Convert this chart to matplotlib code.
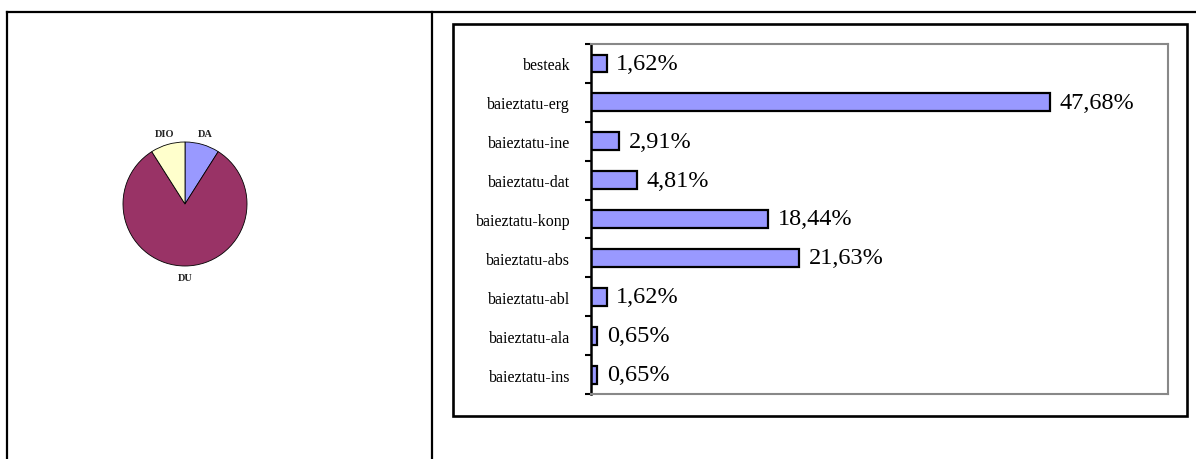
import matplotlib
matplotlib.use("Agg")
import matplotlib.pyplot as plt
from matplotlib.lines import Line2D
from matplotlib.patches import Rectangle

# ---- data ----
pie_labels = ["DA", "DU", "DIO"]
pie_values = [9.0, 82.0, 9.0]
pie_colors = ["#9999FF", "#993366", "#FFFFCC"]

bar_categories = ["besteak", "baieztatu-erg", "baieztatu-ine", "baieztatu-dat",
                  "baieztatu-konp", "baieztatu-abs", "baieztatu-abl",
                  "baieztatu-ala", "baieztatu-ins"]
bar_values = [1.62, 47.68, 2.91, 4.81, 18.44, 21.63, 1.62, 0.65, 0.65]
bar_color = "#9999FF"

W, H = 1196, 460
plt.rcParams['font.family'] = ['Liberation Serif', 'DejaVu Serif']
fig = plt.figure(figsize=(W / 100, H / 100), dpi=100)

def fx(px):
    return px / W

def fy(py):
    return 1 - py / H

# ---- table lines ----
for (x0, y0, x1, y1) in [(7, 13, W, 13), (7, 13, 7, H), (432, 13, 432, H)]:
    fig.add_artist(Line2D([fx(x0), fx(x1)], [fy(y0), fy(y1)], color="black", lw=1.6,
                          transform=fig.transFigure))

# ---- bar chart outer frame ----
fig.add_artist(Rectangle((fx(453), fy(417)), fx(1187) - fx(453), fy(25) - fy(417),
                         transform=fig.transFigure, fill=False, ec="black", lw=1.9))

# ---- pie ----
cx, cy, r = 185, 205, 62
axp = fig.add_axes([fx(cx - r), fy(cy + r), (2 * r) / W, (2 * r) / H])
wedges, texts = axp.pie(pie_values, colors=pie_colors, startangle=90, counterclock=False,
                        labels=pie_labels, labeldistance=1.19,
                        wedgeprops=dict(edgecolor="black", linewidth=0.6),
                        textprops=dict(fontsize=7.5, fontweight="bold", color="#222222"))
for t in texts:
    t.set_ha("center")
    t.set_va("center")
axp.set_xlim(-1, 1)
axp.set_ylim(-1, 1)
axp.set_aspect("equal")
axp.axis("off")

# ---- bar chart ----
ax = fig.add_axes([fx(591), fy(395), (1168 - 591) / W, (395 - 45) / H])
n = len(bar_categories)
ypos = list(range(n))
ax.barh(ypos, bar_values, height=0.46, color=bar_color, edgecolor="black", linewidth=1.6)
ax.set_xlim(0, 60)
ax.set_ylim(n - 0.5, -0.5)
for y, v in zip(ypos, bar_values):
    ax.annotate(f"{v:.2f}".replace(".", ",") + "%", (v, y), xytext=(7, 0),
                textcoords="offset points", ha="left", va="center", fontsize=17.5)

ax.set_xticks([])
ax.set_yticks([i - 0.5 for i in range(n + 1)])
ax.set_yticklabels([])
ax.set_yticks(ypos, minor=True)
ax.set_yticklabels(bar_categories, minor=True, fontsize=11.5)
ax.tick_params(axis="y", which="major", direction="out", length=4.5, width=1.5)
ax.tick_params(axis="y", which="minor", length=0, pad=15)
for s in ["top", "right", "bottom"]:
    ax.spines[s].set_color("#888888")
    ax.spines[s].set_linewidth(1.5)
ax.spines["left"].set_color("black")
ax.spines["left"].set_linewidth(1.8)

fig.savefig("out.png", dpi=100)
